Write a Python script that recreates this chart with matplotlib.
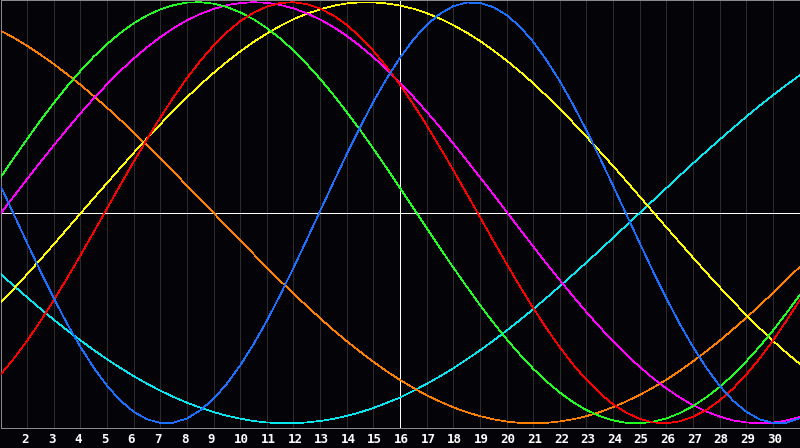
import matplotlib
matplotlib.use("Agg")
import matplotlib.pyplot as plt
from matplotlib import transforms

# ---- data ----
days = list(range(1, 32))                      # whole days 1..31
half_days = [d + 0.5 for d in range(1, 31)]    # readings between days
tick_days = list(range(2, 31))
today = 16

# values at whole days
physical_23 = [0.128, -0.144, -0.406, -0.637, -0.822, -0.945, -0.998, -0.977, -0.884, -0.725,
               -0.513, -0.262, 0.008, 0.278, 0.527, 0.736, 0.892, 0.981, 0.997, 0.939,
               0.812, 0.625, 0.391, 0.128, -0.144, -0.406, -0.637, -0.822, -0.945, -0.998, -0.977]
emotional_28 = [-0.769, -0.608, -0.416, -0.203, 0.020, 0.242, 0.452, 0.639, 0.794, 0.910,
                0.979, 1.000, 0.970, 0.892, 0.769, 0.608, 0.416, 0.203, -0.020, -0.242,
                -0.452, -0.639, -0.794, -0.910, -0.979, -1.000, -0.970, -0.892, -0.769, -0.608, -0.416]
intellectual_33 = [0.167, 0.350, 0.521, 0.673, 0.801, 0.900, 0.966, 0.998, 0.993, 0.952,
                   0.877, 0.771, 0.636, 0.478, 0.304, 0.118, -0.072, -0.260, -0.438, -0.600,
                   -0.741, -0.854, -0.937, -0.986, -1.000, -0.977, -0.919, -0.828, -0.706, -0.560, -0.393]
intuitive_38 = [-0.005, 0.160, 0.320, 0.472, 0.610, 0.732, 0.834, 0.914, 0.968, 0.996,
                0.997, 0.971, 0.918, 0.840, 0.739, 0.618, 0.480, 0.329, 0.169, 0.005,
                -0.160, -0.320, -0.472, -0.610, -0.732, -0.834, -0.914, -0.968, -0.996, -0.997, -0.971]
aesthetic_43 = [-0.428, -0.292, -0.150, -0.004, 0.141, 0.284, 0.420, 0.548, 0.664, 0.766,
                0.851, 0.919, 0.966, 0.994, 0.999, 0.984, 0.948, 0.891, 0.816, 0.723,
                0.615, 0.493, 0.361, 0.222, 0.077, -0.069, -0.213, -0.353, -0.486, -0.608, -0.717]
awareness_48 = [0.865, 0.793, 0.706, 0.608, 0.499, 0.381, 0.258, 0.129, -0.001, -0.132,
                -0.260, -0.384, -0.501, -0.610, -0.708, -0.794, -0.867, -0.924, -0.966, -0.992,
                -1.000, -0.991, -0.966, -0.923, -0.865, -0.793, -0.706, -0.608, -0.499, -0.381, -0.258]
spiritual_53 = [-0.291, -0.402, -0.508, -0.606, -0.696, -0.776, -0.845, -0.902, -0.947, -0.978,
                -0.996, -1.000, -0.989, -0.965, -0.927, -0.878, -0.813, -0.739, -0.654, -0.560,
                -0.458, -0.349, -0.236, -0.119, -0.001, 0.117, 0.234, 0.347, 0.456, 0.558, 0.652]

# values at half days (1.5 .. 30.5)
physical_23_h = [-0.008, -0.278, -0.527, -0.736, -0.892, -0.981, -0.997, -0.939, -0.812, -0.625,
                 -0.391, -0.128, 0.144, 0.406, 0.637, 0.822, 0.945, 0.998, 0.977, 0.884,
                 0.725, 0.513, 0.262, -0.008, -0.278, -0.527, -0.736, -0.892, -0.981, -0.997]
emotional_28_h = [-0.693, -0.515, -0.311, -0.092, 0.132, 0.349, 0.549, 0.721, 0.857, 0.950,
                  0.996, 0.991, 0.937, 0.836, 0.693, 0.515, 0.311, 0.092, -0.132, -0.349,
                  -0.549, -0.721, -0.857, -0.950, -0.996, -0.991, -0.937, -0.836, -0.693, -0.515]
intellectual_33_h = [0.260, 0.438, 0.600, 0.741, 0.854, 0.937, 0.986, 1.000, 0.977, 0.919,
                     0.828, 0.706, 0.560, 0.393, 0.212, 0.023, -0.167, -0.350, -0.521, -0.673,
                     -0.801, -0.900, -0.966, -0.998, -0.993, -0.952, -0.877, -0.771, -0.636, -0.478]
intuitive_38_h = [0.078, 0.241, 0.397, 0.543, 0.674, 0.786, 0.877, 0.944, 0.986, 1.000,
                  0.987, 0.947, 0.882, 0.792, 0.681, 0.551, 0.406, 0.250, 0.088, -0.078,
                  -0.241, -0.397, -0.543, -0.674, -0.786, -0.877, -0.944, -0.986, -1.000, -0.987]
aesthetic_43_h = [-0.361, -0.222, -0.077, 0.069, 0.213, 0.353, 0.486, 0.608, 0.717, 0.811,
                  0.887, 0.945, 0.983, 0.999, 0.994, 0.969, 0.922, 0.856, 0.771, 0.671,
                  0.555, 0.428, 0.292, 0.150, 0.004, -0.141, -0.284, -0.420, -0.548, -0.664]
awareness_48_h = [0.831, 0.751, 0.658, 0.554, 0.441, 0.320, 0.194, 0.064, -0.067, -0.196,
                  -0.323, -0.443, -0.557, -0.660, -0.753, -0.832, -0.897, -0.947, -0.981, -0.998,
                  -0.998, -0.981, -0.947, -0.896, -0.831, -0.751, -0.658, -0.554, -0.441, -0.320]
spiritual_53_h = [-0.347, -0.456, -0.558, -0.652, -0.737, -0.812, -0.875, -0.926, -0.964, -0.989,
                  -1.000, -0.996, -0.979, -0.948, -0.903, -0.846, -0.777, -0.697, -0.608, -0.510,
                  -0.404, -0.293, -0.178, -0.060, 0.058, 0.176, 0.291, 0.402, 0.508, 0.606]

series = [
    (spiritual_53, spiritual_53_h, "#08e6f0"),
    (awareness_48, awareness_48_h, "#ff8000"),
    (aesthetic_43, aesthetic_43_h, "#ffff00"),
    (intuitive_38, intuitive_38_h, "#ff00ff"),
    (intellectual_33, intellectual_33_h, "#20ff20"),
    (emotional_28, emotional_28_h, "#ff0000"),
    (physical_23, physical_23_h, "#1a70ff"),
]

# ---- figure ----
W, H = 800, 448
BG = "#040408"
fig = plt.figure(figsize=(W / 100, H / 100), dpi=100)
fig.patch.set_facecolor(BG)
top_px, bot_px = 0.5, 427.5
ax = fig.add_axes([0.5 / W, (H - bot_px) / H, 799.0 / W, (bot_px - top_px) / H])
ax.set_facecolor(BG)
ax.set_xlim(1, 31)
ax.set_ylim(-1.02, 1.008)

for s in ax.spines.values():
    s.set_color("#8a8a8a")
    s.set_linewidth(0.5)
    s.set_antialiased(False)

for d in tick_days:
    ax.axvline(d, color="#2c2c2c", lw=0.5, antialiased=False, zorder=1)

ax.axhline(0, color="#ffffff", lw=0.5, antialiased=False, zorder=2)
ax.axvline(today, color="#ffffff", lw=0.5, antialiased=False, zorder=2)

for whole, half, col in series:
    pts = sorted(list(zip(days, whole)) + list(zip(half_days, half)))
    xs = [p[0] for p in pts]
    ys = [p[1] for p in pts]
    ax.plot(xs, ys, color=col, lw=0.5, antialiased=False, zorder=3)

ax.set_xticks([])
ax.set_yticks([])

trans = transforms.blended_transform_factory(ax.transData, fig.transFigure)
trans = transforms.offset_copy(trans, fig=fig, x=-6, y=0, units="dots")
for d in tick_days:
    fig.text(d, (H - 439) / H, str(d), transform=trans, ha="left", va="center",
             color="white", fontsize=9, fontweight="bold", family="DejaVu Sans Mono")

fig.savefig("out.png", dpi=100, facecolor=fig.get_facecolor())
